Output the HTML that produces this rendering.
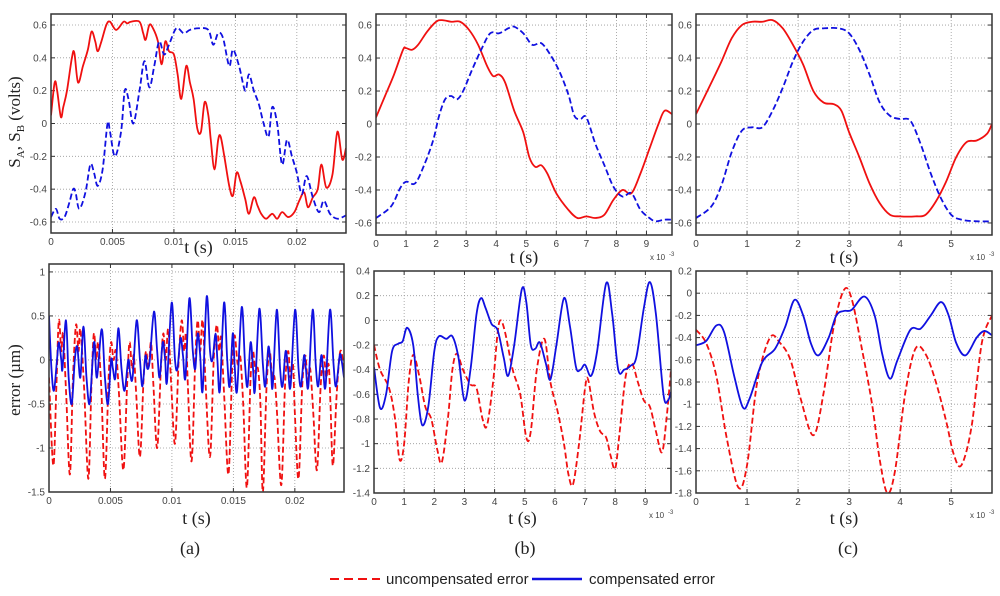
<!DOCTYPE html>
<html><head><meta charset="utf-8">
<style>
html,body{margin:0;padding:0;background:#fff;}
svg{display:block;}
</style></head>
<body>
<svg id="fig" width="1000" height="596" viewBox="0 0 1000 596" xmlns="http://www.w3.org/2000/svg"></svg>
<script>
// ---------- Data (t in ms, values in volts / µm) ----------
const aTopRedT=[0,0.3,0.5,0.8,1.0,1.3,1.7,1.9,2.2,2.6,3.0,3.3,3.6,3.8,4.1,4.5,4.8,5.3,5.9,6.2,6.5,7.2,7.5,7.7,8.0,8.3,8.7,9.0,9.3,9.6,10.0,10.3,10.6,11.0,11.3,11.6,11.9,12.2,12.5,12.8,13.0,13.3,13.6,13.8,14.1,14.5,14.8,15.1,15.4,15.8,16.1,16.5,16.8,17.1,17.5,18.0,18.4,18.8,19.3,19.8,20.2,20.6,20.9,21.3,21.7,22.0,22.4,22.9,23.3,23.7,24];
const aTopRedV=[0.05,0.25,0.2,0.04,0.1,0.2,0.4,0.43,0.25,0.35,0.45,0.56,0.5,0.44,0.5,0.6,0.62,0.57,0.62,0.61,0.62,0.62,0.55,0.51,0.6,0.58,0.5,0.36,0.5,0.44,0.42,0.3,0.15,0.35,0.25,0.15,-0.03,-0.05,0.13,0.05,-0.1,-0.28,-0.1,-0.08,-0.2,-0.38,-0.44,-0.3,-0.35,-0.46,-0.55,-0.45,-0.5,-0.55,-0.58,-0.55,-0.58,-0.54,-0.57,-0.54,-0.47,-0.42,-0.51,-0.45,-0.4,-0.25,-0.39,-0.31,-0.05,-0.22,-0.15];
const aTopBlueT=[0,0.4,0.7,1.1,1.5,1.8,2.0,2.3,2.8,3.2,3.5,3.8,4.2,4.6,4.8,5.2,5.7,6.0,6.3,6.7,7.2,7.6,8.0,8.4,8.8,9.2,9.6,10.2,10.8,11.3,12.0,12.8,13.2,13.6,14.0,14.5,14.8,15.3,15.8,16.1,16.5,16.9,17.3,17.7,18.0,18.4,18.8,19.2,19.6,20.0,20.4,20.8,21.3,21.8,22.2,22.7,23.3,24];
const aTopBlueV=[-0.57,-0.52,-0.58,-0.57,-0.48,-0.4,-0.42,-0.52,-0.42,-0.25,-0.3,-0.38,-0.28,0.0,-0.05,-0.2,-0.05,0.2,0.15,0.0,0.2,0.38,0.22,0.35,0.5,0.42,0.48,0.58,0.55,0.57,0.58,0.57,0.48,0.55,0.52,0.35,0.45,0.35,0.2,0.3,0.2,0.12,0.0,-0.08,0.1,0.0,-0.25,-0.1,-0.2,-0.3,-0.43,-0.32,-0.45,-0.54,-0.47,-0.55,-0.58,-0.56];
const aBotBlueT=[0,0.2,0.4,0.65,0.8,1.0,1.1,1.38,1.6,1.85,2.1,2.3,2.55,2.8,3.05,3.3,3.55,3.7,3.9,4.29,4.55,4.8,5.05,5.2,5.4,5.64,5.9,6.15,6.45,6.6,6.8,7.13,7.4,7.6,7.85,8.0,8.2,8.54,8.8,9.0,9.25,9.45,9.6,9.98,10.25,10.45,10.7,10.9,11.1,11.42,11.7,11.9,12.1,12.3,12.5,12.83,13.1,13.3,13.55,13.7,13.9,14.24,14.5,14.7,14.95,15.1,15.3,15.68,15.95,16.15,16.4,16.6,16.75,17.11,17.4,17.6,17.85,18.05,18.2,18.53,18.8,19.0,19.25,19.45,19.65,20.02,20.3,20.5,20.75,20.9,21.1,21.45,21.7,21.9,22.15,22.3,22.5,22.86,23.15,23.35,23.65,23.8,24];
const aBotBlueV=[0.5,-0.1,-0.35,0.0,0.2,0.0,-0.1,0.45,-0.2,-0.5,0.0,0.15,-0.2,0.38,-0.2,-0.5,0.0,0.2,-0.2,0.35,-0.2,-0.5,0.0,-0.1,-0.2,0.36,-0.1,-0.35,0.0,-0.15,-0.2,0.45,0.0,-0.3,0.05,-0.1,0.0,0.55,0.1,-0.2,0.2,0.0,-0.25,0.65,0.0,-0.1,0.25,0.05,-0.2,0.7,0.1,-0.1,0.3,0.05,-0.35,0.72,0.1,0.0,0.3,0.0,-0.35,0.65,0.0,-0.3,0.3,-0.05,-0.35,0.6,-0.05,-0.3,0.2,-0.1,-0.35,0.58,-0.05,-0.3,0.15,-0.1,-0.3,0.57,-0.1,-0.3,0.1,-0.1,-0.3,0.57,-0.1,-0.3,0.05,-0.1,-0.3,0.57,-0.05,-0.3,0.05,-0.1,-0.3,0.57,-0.05,-0.3,0.05,0.0,-0.2];
const aBotRedT=[0,0.35,0.6,0.8,1.0,1.15,1.4,1.7,1.95,2.2,2.4,2.55,2.85,3.2,3.45,3.65,3.85,4.0,4.25,4.55,4.85,5.05,5.25,5.45,5.7,6.05,6.35,6.55,6.75,6.9,7.1,7.4,7.7,7.9,8.1,8.3,8.5,8.8,9.1,9.3,9.5,9.7,9.95,10.25,10.55,10.8,11.0,11.15,11.3,11.6,11.9,12.1,12.3,12.5,12.75,13.1,13.4,13.65,13.85,14.0,14.25,14.6,14.9,15.1,15.35,15.55,15.8,16.1,16.4,16.6,16.8,17.0,17.2,17.4,17.7,17.95,18.15,18.35,18.55,18.9,19.2,19.45,19.65,19.85,20.0,20.3,20.6,20.85,21.05,21.25,21.5,21.8,22.1,22.35,22.55,22.75,22.9,23.1,23.4,23.7,24];
const aBotRedV=[-0.2,-1.2,-0.3,0.45,0.1,0.3,-0.4,-1.3,-0.2,0.4,0.1,0.35,-0.3,-1.35,-0.3,0.3,0.0,0.2,-0.3,-1.35,-0.2,0.2,0.0,0.1,-0.4,-1.25,-0.3,0.2,-0.1,0.05,-0.4,-1.1,-0.2,0.1,-0.1,0.2,-0.3,-1.0,-0.1,0.3,0.0,0.35,-0.3,-0.95,0.0,0.45,0.1,0.3,-0.3,-1.15,0.0,0.45,0.1,0.45,-0.3,-1.1,0.0,0.4,0.1,0.25,-0.4,-1.3,-0.1,0.28,-0.05,0.05,-0.5,-1.45,-0.2,0.1,-0.15,-0.1,-0.5,-1.5,-0.3,0.1,-0.2,-0.2,-0.6,-1.42,-0.3,0.1,-0.2,-0.05,-0.6,-1.35,-0.3,0.05,-0.25,-0.1,-0.6,-1.25,-0.3,0.05,-0.2,-0.05,-0.5,-1.2,-0.4,0.1,-0.1];

const bTopRedT=[0,0.3,0.6,0.9,1.0,1.2,1.4,1.7,2.0,2.2,2.5,2.8,3.1,3.4,3.7,3.9,4.1,4.3,4.6,4.9,5.1,5.3,5.5,5.7,6.0,6.4,6.7,7.0,7.3,7.6,7.9,8.2,8.5,8.8,9.1,9.4,9.6,9.85];
const bTopRedV=[0.04,0.17,0.3,0.45,0.46,0.45,0.48,0.56,0.62,0.63,0.62,0.62,0.57,0.48,0.35,0.29,0.3,0.25,0.08,-0.05,-0.2,-0.26,-0.25,-0.3,-0.42,-0.52,-0.57,-0.56,-0.57,-0.55,-0.46,-0.4,-0.42,-0.3,-0.15,0.0,0.08,0.06];
const bTopBlueT=[0,0.5,0.8,1.0,1.3,1.6,1.9,2.1,2.3,2.5,2.7,2.9,3.2,3.5,3.8,4.1,4.4,4.6,4.9,5.2,5.5,5.8,6.1,6.4,6.6,6.8,7.0,7.3,7.6,7.9,8.2,8.5,8.8,9.1,9.3,9.6,9.85];
const bTopBlueV=[-0.57,-0.5,-0.39,-0.35,-0.36,-0.25,-0.1,0.05,0.15,0.17,0.15,0.2,0.33,0.45,0.55,0.55,0.58,0.59,0.55,0.48,0.49,0.42,0.32,0.18,0.05,0.03,0.04,-0.12,-0.25,-0.38,-0.44,-0.42,-0.52,-0.57,-0.59,-0.58,-0.58];
const bBotBlueT=[0,0.2,0.4,0.6,0.8,0.95,1.1,1.3,1.45,1.6,1.8,2.0,2.15,2.4,2.6,2.8,3.0,3.2,3.4,3.55,3.7,3.9,4.1,4.3,4.45,4.65,4.9,5.05,5.2,5.35,5.5,5.7,5.85,6.05,6.3,6.5,6.7,6.85,7.0,7.2,7.4,7.7,7.9,8.1,8.3,8.5,8.7,8.95,9.15,9.35,9.6,9.75,9.85];
const bBotBlueV=[-0.38,-0.71,-0.6,-0.25,-0.19,-0.17,-0.06,-0.2,-0.6,-0.85,-0.7,-0.25,-0.13,-0.15,-0.13,-0.3,-0.65,-0.4,0.05,0.18,0.1,-0.03,-0.08,-0.3,-0.45,-0.2,0.25,0.15,-0.2,-0.23,-0.18,-0.35,-0.48,-0.2,0.18,-0.05,-0.38,-0.4,-0.36,-0.45,-0.25,0.3,0.05,-0.4,-0.4,-0.37,-0.3,0.1,0.31,0.05,-0.6,-0.65,-0.58];
const bBotRedT=[0,0.2,0.5,0.7,0.85,1.0,1.15,1.3,1.5,1.7,1.9,2.1,2.25,2.45,2.6,2.75,2.95,3.2,3.4,3.6,3.75,3.95,4.1,4.2,4.35,4.6,4.85,5.05,5.2,5.4,5.65,5.85,6.1,6.3,6.45,6.6,6.8,7.0,7.1,7.3,7.5,7.7,7.85,8.0,8.15,8.35,8.55,8.75,8.95,9.15,9.35,9.55,9.7,9.85];
const bBotRedV=[-0.2,-0.4,-0.55,-0.8,-1.13,-1.0,-0.5,-0.28,-0.45,-0.7,-0.8,-1.05,-1.15,-0.8,-0.4,-0.27,-0.4,-0.52,-0.55,-0.8,-0.85,-0.5,-0.1,0.0,-0.1,-0.4,-0.6,-0.95,-0.9,-0.4,-0.15,-0.5,-0.75,-1.0,-1.25,-1.33,-1.0,-0.55,-0.48,-0.75,-0.9,-0.95,-1.1,-1.2,-0.9,-0.45,-0.35,-0.5,-0.65,-0.7,-0.9,-1.07,-0.8,-0.4];

const cTopRedT=[0,0.3,0.5,0.7,0.9,1.1,1.3,1.5,1.7,1.9,2.1,2.3,2.5,2.7,2.85,3.0,3.2,3.4,3.6,3.8,4.0,4.3,4.5,4.7,4.9,5.1,5.3,5.5,5.7,5.8];
const cTopRedV=[0.06,0.25,0.38,0.52,0.6,0.62,0.62,0.63,0.58,0.48,0.36,0.2,0.13,0.12,0.08,-0.05,-0.2,-0.36,-0.48,-0.55,-0.56,-0.56,-0.55,-0.47,-0.35,-0.2,-0.11,-0.1,-0.06,0.0];
const cTopBlueT=[0,0.3,0.5,0.7,0.9,1.1,1.3,1.5,1.7,1.9,2.1,2.3,2.5,2.8,3.0,3.2,3.4,3.6,3.8,4.0,4.2,4.4,4.6,4.8,5.0,5.2,5.5,5.8];
const cTopBlueV=[-0.57,-0.5,-0.37,-0.17,-0.04,-0.02,-0.02,0.08,0.22,0.38,0.5,0.57,0.58,0.58,0.55,0.45,0.3,0.13,0.05,0.03,0.02,-0.12,-0.3,-0.45,-0.55,-0.58,-0.59,-0.59];
const cBotBlueT=[0,0.2,0.4,0.55,0.75,0.92,1.05,1.3,1.55,1.75,1.93,2.1,2.25,2.4,2.6,2.75,2.9,3.05,3.3,3.5,3.65,3.8,3.95,4.2,4.4,4.6,4.8,4.95,5.1,5.28,5.5,5.65,5.8];
const cBotBlueV=[-0.47,-0.43,-0.29,-0.35,-0.75,-1.03,-0.95,-0.62,-0.5,-0.3,-0.06,-0.2,-0.45,-0.56,-0.4,-0.2,-0.16,-0.15,-0.03,-0.2,-0.55,-0.77,-0.6,-0.33,-0.32,-0.2,-0.08,-0.2,-0.45,-0.56,-0.4,-0.34,-0.38];
const cBotRedT=[0,0.2,0.4,0.6,0.83,1.0,1.2,1.45,1.65,1.85,2.05,2.3,2.5,2.7,2.9,3.05,3.25,3.45,3.6,3.75,3.9,4.1,4.3,4.5,4.7,4.9,5.05,5.2,5.4,5.6,5.8];
const cBotRedV=[-0.33,-0.45,-0.75,-1.3,-1.75,-1.55,-0.8,-0.4,-0.45,-0.6,-0.95,-1.28,-0.9,-0.3,0.03,-0.05,-0.5,-1.0,-1.5,-1.8,-1.6,-0.9,-0.5,-0.55,-0.8,-1.15,-1.45,-1.55,-1.2,-0.45,-0.2];

// tick arrays
const aXTicks=[0,5,10,15,20];
const aXLabels=["0","0.005","0.01","0.015","0.02"];
const topYTicks=[-0.6,-0.4,-0.2,0,0.2,0.4,0.6];
const topYLabels=["-0.6","-0.4","-0.2","0","0.2","0.4","0.6"];
const aBotYTicks=[-1.5,-1,-0.5,0,0.5,1];
const aBotYLabels=["-1.5","-1","-0.5","0","0.5","1"];
const bXTicks=[0,1,2,3,4,5,6,7,8,9];
const bBotYTicks=[-1.4,-1.2,-1,-0.8,-0.6,-0.4,-0.2,0,0.2,0.4];
const bBotYLabels=["-1.4","-1.2","-1","-0.8","-0.6","-0.4","-0.2","0","0.2","0.4"];
const cXTicks=[0,1,2,3,4,5];
const cBotYTicks=[-1.8,-1.6,-1.4,-1.2,-1,-0.8,-0.6,-0.4,-0.2,0,0.2];
const cBotYLabels=["-1.8","-1.6","-1.4","-1.2","-1","-0.8","-0.6","-0.4","-0.2","0","0.2"];

const NS="http://www.w3.org/2000/svg";
const svg=document.getElementById('fig');
function mk(tag,attrs,parent){const e=document.createElementNS(NS,tag);for(const k in attrs)e.setAttribute(k,attrs[k]);(parent||svg).appendChild(e);return e;}

function smoothPath(pts){
  let d="M"+pts[0][0].toFixed(2)+","+pts[0][1].toFixed(2);
  for(let i=0;i<pts.length-1;i++){
    const p0=pts[Math.max(0,i-1)],p1=pts[i],p2=pts[i+1],p3=pts[Math.min(pts.length-1,i+2)];
    const c1x=p1[0]+(p2[0]-p0[0])/6,c1y=p1[1]+(p2[1]-p0[1])/6;
    const c2x=p2[0]-(p3[0]-p1[0])/6,c2y=p2[1]-(p3[1]-p1[1])/6;
    d+=" C"+c1x.toFixed(2)+","+c1y.toFixed(2)+" "+c2x.toFixed(2)+","+c2y.toFixed(2)+" "+p2[0].toFixed(2)+","+p2[1].toFixed(2);
  }
  return d;
}

function panel(name,box,xd,yd,xt,xl,yt,yl,series,exp,titleOff){
  const g=mk('g',{});
  
  
  const [x0,y0,x1,y1]=box;
  const sx=v=>x0+(v-xd[0])/(xd[1]-xd[0])*(x1-x0);
  const sy=v=>y1-(v-yd[0])/(yd[1]-yd[0])*(y1-y0);
  mk('rect',{x:x0,y:y0,width:x1-x0,height:y1-y0,fill:'#fff'},g);
  const clipId=name+'-clip';
  const cp=mk('clipPath',{id:clipId},g);
  mk('rect',{x:x0,y:y0,width:x1-x0,height:y1-y0},cp);
  xt.forEach((v,i)=>{
    const X=sx(v);
    const gl=mk('line',{x1:X,y1:y0,x2:X,y2:y1,stroke:'#999','stroke-width':0.8,'stroke-dasharray':'1,2'},g);
    
    
    mk('line',{x1:X,y1:y1,x2:X,y2:y1-4,stroke:'#333','stroke-width':1},g);
    mk('line',{x1:X,y1:y0,x2:X,y2:y0+4,stroke:'#333','stroke-width':1},g);
    const t=mk('text',{x:X,y:y1+12,'text-anchor':'middle','font-size':10,'font-family':'Liberation Sans, sans-serif',fill:'#444'},g);
    t.textContent=xl[i];
    
    
  });
  yt.forEach((v,i)=>{
    const Y=sy(v);
    const gl=mk('line',{x1:x0,y1:Y,x2:x1,y2:Y,stroke:'#999','stroke-width':0.8,'stroke-dasharray':'1,2'},g);
    
    
    mk('line',{x1:x0,y1:Y,x2:x0+4,y2:Y,stroke:'#333','stroke-width':1},g);
    mk('line',{x1:x1,y1:Y,x2:x1-4,y2:Y,stroke:'#333','stroke-width':1},g);
    const t=mk('text',{x:x0-4,y:Math.max(Y+3.5,y0+3),'text-anchor':'end','font-size':10,'font-family':'Liberation Sans, sans-serif',fill:'#444'},g);
    t.textContent=yl[i];
    
    
  });
  series.forEach(s=>{
    const pts=s.t.map((tv,i)=>[sx(tv),sy(s.v[i])]);
    const p=mk('path',{d:smoothPath(pts),fill:'none',stroke:s.c,'stroke-width':1.8,'clip-path':'url(#'+clipId+')'},g);
    if(s.dash)p.setAttribute('stroke-dasharray','6,3');
    
    
  });
  mk('rect',{x:x0,y:y0,width:x1-x0,height:y1-y0,fill:'none',stroke:'#333','stroke-width':1.5},g);
  if(exp){
    const t=mk('text',{x:x1-22,y:y1+25,'font-size':8,'font-family':'Liberation Sans, sans-serif',fill:'#444'},g);
    t.textContent='x 10';
    
    
    const t2=mk('text',{x:x1-3,y:y1+21,'font-size':6,'font-family':'Liberation Sans, sans-serif',fill:'#444'},g);
    t2.textContent='-3';
  }
  const xlbl=mk('text',{x:(x0+x1)/2,y:y1+titleOff,'text-anchor':'middle','font-size':18,'font-family':'Liberation Serif, serif',fill:'#222'},g);
  xlbl.textContent='t (s)';
  
  
}

const RED='#f01010',BLUE='#1010e0';
panel('panel-a-signals',[51,14,346,233],[0,24],[-0.667,0.667],aXTicks,aXLabels,topYTicks,topYLabels,
  [{t:aTopRedT,v:aTopRedV,c:RED,name:'signal-a-line'},{t:aTopBlueT,v:aTopBlueV,c:BLUE,dash:true,name:'signal-b-line'}],false,20);
panel('panel-a-error',[49,264,344,492],[0,24],[-1.5,1.09],aXTicks,aXLabels,aBotYTicks,aBotYLabels,
  [{t:aBotRedT,v:aBotRedV,c:RED,dash:true,name:'uncompensated-error-line'},{t:aBotBlueT,v:aBotBlueV,c:BLUE,name:'compensated-error-line'}],false,32);
panel('panel-b-signals',[376,14,672,235],[0,9.85],[-0.673,0.667],bXTicks,bXTicks.map(String),topYTicks,topYLabels,
  [{t:bTopRedT,v:bTopRedV,c:RED,name:'signal-a-line'},{t:bTopBlueT,v:bTopBlueV,c:BLUE,dash:true,name:'signal-b-line'}],true,28);
panel('panel-b-error',[374,271,671,493],[0,9.85],[-1.4,0.4],bXTicks,bXTicks.map(String),bBotYTicks,bBotYLabels,
  [{t:bBotRedT,v:bBotRedV,c:RED,dash:true,name:'uncompensated-error-line'},{t:bBotBlueT,v:bBotBlueV,c:BLUE,name:'compensated-error-line'}],true,31);
panel('panel-c-signals',[696,14,992,235],[0,5.8],[-0.673,0.667],cXTicks,cXTicks.map(String),topYTicks,topYLabels,
  [{t:cTopRedT,v:cTopRedV,c:RED,name:'signal-a-line'},{t:cTopBlueT,v:cTopBlueV,c:BLUE,dash:true,name:'signal-b-line'}],true,28);
panel('panel-c-error',[696,271,992,493],[0,5.8],[-1.8,0.2],cXTicks,cXTicks.map(String),cBotYTicks,cBotYLabels,
  [{t:cBotRedT,v:cBotRedV,c:RED,dash:true,name:'uncompensated-error-line'},{t:cBotBlueT,v:cBotBlueV,c:BLUE,name:'compensated-error-line'}],true,31);
</script>
<svg style="position:absolute;left:0;top:0" width="1000" height="596" xmlns="http://www.w3.org/2000/svg">
  <text transform="translate(20,122) rotate(-90)" text-anchor="middle" font-family="Liberation Serif, serif" font-size="17" fill="#222">S<tspan font-size="11" dy="4">A</tspan><tspan dy="-4">, S</tspan><tspan font-size="11" dy="4">B</tspan><tspan dy="-4"> (volts)</tspan></text>
  <text transform="translate(20,380) rotate(-90)" text-anchor="middle" font-family="Liberation Serif, serif" font-size="17" fill="#222">error (µm)</text>
  <text x="190" y="554" text-anchor="middle" font-family="Liberation Serif, serif" font-size="18" fill="#222">(a)</text>
  <text x="525" y="554" text-anchor="middle" font-family="Liberation Serif, serif" font-size="18" fill="#222">(b)</text>
  <text x="848" y="554" text-anchor="middle" font-family="Liberation Serif, serif" font-size="18" fill="#222">(c)</text>
  <g>
    <line x1="330" y1="579" x2="380" y2="579" stroke="#f01010" stroke-width="2" stroke-dasharray="9,5"/>
    <text x="386" y="584" font-family="Liberation Sans, sans-serif" font-size="15" fill="#222">uncompensated error</text>
    <line x1="532" y1="579" x2="582" y2="579" stroke="#1010e0" stroke-width="2.5"/>
    <text x="589" y="584" font-family="Liberation Sans, sans-serif" font-size="15" fill="#222">compensated error</text>
  </g>
</svg>
</body></html>
